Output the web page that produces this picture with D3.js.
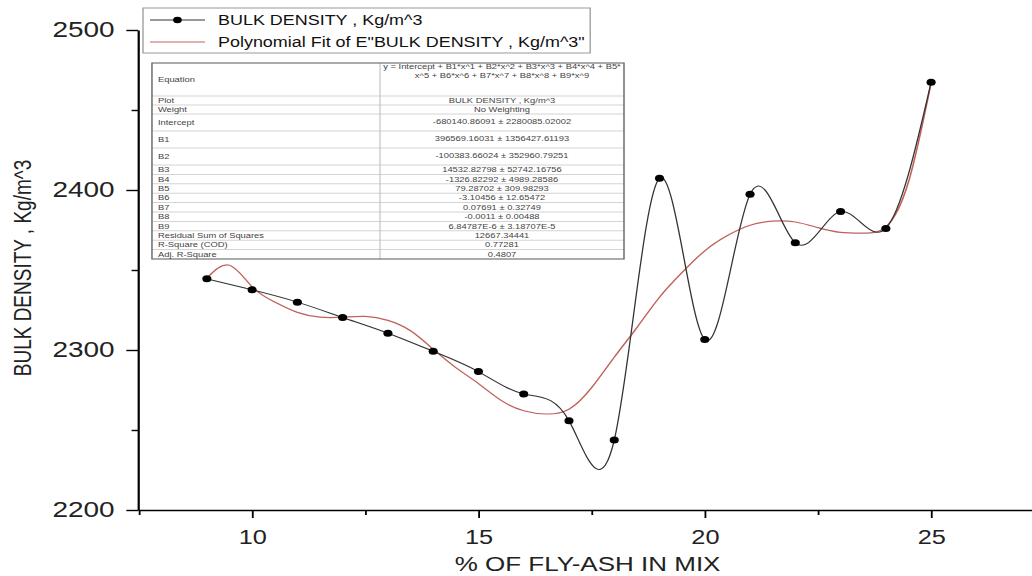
<!DOCTYPE html>
<html>
<head>
<meta charset="utf-8">
<script src="https://cdn.jsdelivr.net/npm/d3@7"></script>
<style>
  body { margin: 0; background: #fff; }
  svg { display: block; font-family: "Liberation Sans", Arial, sans-serif; }
</style>
</head>
<body>
<div id="chart"></div>
<script>
// measured data (% fly-ash vs bulk density)
const flyAsh = [9, 10, 11, 12, 13, 14, 15, 16, 17, 18, 19, 20, 21, 22, 23, 24, 25];
const bulkDensity = [2344.5, 2337.6, 2329.9, 2320.3, 2310.5, 2299.2, 2286.5, 2272.5,
  2255.8, 2243.7, 2407.3, 2306.5, 2397.3, 2367, 2386.5, 2376, 2467.3];

// polynomial fit curve
const fitX = [9, 9.5, 10, 10.5, 11, 11.5, 12, 12.5, 13, 13.5, 14, 14.5, 15, 15.5, 16, 16.5,
  17, 17.5, 18, 18.5, 19, 19.5, 20, 20.5, 21, 21.5, 22, 22.5, 23, 23.5, 24, 24.5, 25];
const fitY = [2345, 2353, 2339.5, 2330, 2323.5, 2320.5, 2320.5, 2321, 2318.5, 2312, 2300.5,
  2289, 2279, 2268.5, 2262, 2260, 2263, 2276.5, 2295.5, 2314, 2333, 2348.5, 2362, 2371.5,
  2378, 2380.5, 2380, 2376.5, 2373.5, 2373, 2377, 2405, 2467];

const xTicks = [10, 15, 20, 25];
const xMinor = [7.5, 12.5, 17.5, 22.5];
const yTicks = [2200, 2300, 2400, 2500];
const yMinor = [2250, 2350, 2450];

const legendLabels = ["BULK DENSITY , Kg/m^3", "Polynomial Fit of E\"BULK DENSITY , Kg/m^3\""];

const tableLabels = ["Equation", "Plot", "Weight", "Intercept", "B1", "B2", "B3", "B4", "B5",
  "B6", "B7", "B8", "B9", "Residual Sum of Squares", "R-Square (COD)", "Adj. R-Square"];
const tableValues = [
  ["y = Intercept + B1*x^1 + B2*x^2 + B3*x^3 + B4*x^4 + B5*", "x^5 + B6*x^6 + B7*x^7 + B8*x^8 + B9*x^9"],
  "BULK DENSITY , Kg/m^3", "No Weighting",
  "-680140.86091 ± 2280085.02002", "396569.16031 ± 1356427.61193",
  "-100383.66024 ± 352960.79251", "14532.82798 ± 52742.16756",
  "-1326.82292 ± 4989.28586", "79.28702 ± 309.98293", "-3.10456 ± 12.65472",
  "0.07691 ± 0.32749", "-0.0011 ± 0.00488", "6.84787E-6 ± 3.18707E-5",
  "12667.34441", "0.77281", "0.4807"];

const width = 1032;
const height = 576;
const SX = 1.3; // the original picture is stretched horizontally

const svg = d3.select("#chart")
  .append("svg")
  .attr("width", width)
  .attr("height", height);

const g = svg.append("g")
  .attr("transform", `scale(${SX},1)`);

const x = d3.scaleLinear()
  .domain([7.48, 27.4])
  .range([106.2, 799.8]);

const y = d3.scaleLinear()
  .domain([2200, 2500])
  .range([510, 30]);

const fontFam = '"Liberation Sans", Arial, sans-serif';

// axes
const yAxis = g.append("g")
  .attr("transform", `translate(${x.range()[0]},0)`)
  .call(d3.axisLeft(y).tickValues(yTicks).tickFormat(d3.format("d"))
    .tickSize(9).tickSizeOuter(0).tickPadding(9));
yAxis.selectAll("text")
  .attr("font-size", 21.5)
  .attr("font-family", fontFam)
  .attr("fill", "#222");
g.append("g")
  .attr("transform", `translate(${x.range()[0]},0)`)
  .call(d3.axisLeft(y).tickValues(yMinor).tickFormat("").tickSize(5).tickSizeOuter(0))
  .select(".domain").remove();

const xAxis = g.append("g")
  .attr("transform", `translate(0,${y.range()[0]})`)
  .call(d3.axisBottom(x).tickValues(xTicks).tickFormat(d3.format("d"))
    .tickSize(8).tickSizeOuter(0).tickPadding(12));
xAxis.selectAll("text")
  .attr("font-size", 19.5)
  .attr("font-family", fontFam)
  .attr("fill", "#222");
g.append("g")
  .attr("transform", `translate(0,${y.range()[0]})`)
  .call(d3.axisBottom(x).tickValues(xMinor).tickFormat("").tickSize(5).tickSizeOuter(0))
  .select(".domain").remove();

g.selectAll(".domain").attr("stroke", "#000").attr("stroke-width", 1.7);
g.selectAll(".tick line").attr("stroke", "#000").attr("stroke-width", 1.4);

// axis titles
g.append("text")
  .attr("x", 452)
  .attr("y", 571)
  .attr("text-anchor", "middle")
  .attr("font-size", 20)
  .attr("fill", "#222")
  .text("% OF FLY-ASH IN MIX");

g.append("text")
  .attr("transform", `translate(17.3,268) rotate(-90)`)
  .attr("dy", "0.36em")
  .attr("text-anchor", "middle")
  .attr("font-size", 19)
  .attr("fill", "#222")
  .text("BULK DENSITY , Kg/m^3");

// fit curve
const fitData = fitX.map((d, i) => ({ x: d, y: fitY[i] }));
g.append("path")
  .datum(fitData)
  .attr("fill", "none")
  .attr("stroke", "#c0625c")
  .attr("stroke-width", 1.2)
  .attr("d", d3.line().x(d => x(d.x)).y(d => y(d.y)).curve(d3.curveNatural));

// data line + points
const data = flyAsh.map((d, i) => ({ x: d, y: bulkDensity[i] }));
g.append("path")
  .datum(data)
  .attr("fill", "none")
  .attr("stroke", "#333")
  .attr("stroke-width", 1)
  .attr("d", d3.line().x(d => x(d.x)).y(d => y(d.y)).curve(d3.curveNatural));

g.selectAll(".pt")
  .data(data)
  .enter().append("circle")
  .attr("class", "pt")
  .attr("cx", d => x(d.x))
  .attr("cy", d => y(d.y))
  .attr("r", 3.5)
  .attr("fill", "#000");

// legend
const legend = g.append("g");
legend.append("rect")
  .attr("x", 110).attr("y", 8)
  .attr("width", 344).attr("height", 45)
  .attr("fill", "#fff")
  .attr("stroke", "#999")
  .attr("stroke-width", 1);
const legY = [20, 42];
legend.append("line")
  .attr("x1", 115.4).attr("x2", 157.7).attr("y1", legY[0]).attr("y2", legY[0])
  .attr("stroke", "#333").attr("stroke-width", 1);
legend.append("circle")
  .attr("cx", 136.5).attr("cy", legY[0]).attr("r", 3.3).attr("fill", "#000");
legend.append("line")
  .attr("x1", 115.4).attr("x2", 157.7).attr("y1", legY[1]).attr("y2", legY[1])
  .attr("stroke", "#c0625c").attr("stroke-width", 1.2);
legend.selectAll(".leg-text")
  .data(legendLabels)
  .enter().append("text")
  .attr("class", "leg-text")
  .attr("x", 167.7)
  .attr("y", (d, i) => legY[i])
  .attr("dy", "0.36em")
  .attr("font-size", 13.8)
  .attr("fill", "#111")
  .text(d => d);

// fit result table
const tLeft = 116.9, tRight = 480, tMid = 292.3, tTop = 63;
const rowH = [33, 9, 9, 17, 17, 17, 9.4, 9.4, 9.4, 9.4, 9.4, 9.4, 9.4, 9.4, 9.4, 9.4];
const rowTop = [];
rowH.reduce((acc, h) => { rowTop.push(acc); return acc + h; }, tTop);
const tBottom = rowTop[rowTop.length - 1] + rowH[rowH.length - 1];

const table = g.append("g").attr("font-size", 7.2).attr("fill", "#444");
table.append("rect")
  .attr("x", tLeft).attr("y", tTop)
  .attr("width", tRight - tLeft).attr("height", tBottom - tTop)
  .attr("fill", "#fff");

table.selectAll(".row-line")
  .data(rowTop.slice(1))
  .enter().append("line")
  .attr("x1", tLeft).attr("x2", tRight)
  .attr("y1", d => d).attr("y2", d => d)
  .attr("stroke", "#d4d4d4").attr("stroke-width", 1);
table.append("line")
  .attr("x1", tMid).attr("x2", tMid).attr("y1", tTop).attr("y2", tBottom)
  .attr("stroke", "#bbb").attr("stroke-width", 0.8);
table.append("rect")
  .attr("x", tLeft).attr("y", tTop)
  .attr("width", tRight - tLeft).attr("height", tBottom - tTop)
  .attr("fill", "none")
  .attr("stroke", "#666").attr("stroke-width", 1.1);

table.selectAll(".t-label")
  .data(tableLabels)
  .enter().append("text")
  .attr("x", tLeft + 4.6)
  .attr("y", (d, i) => rowTop[i] + rowH[i] / 2)
  .attr("dy", "0.36em")
  .text(d => d);

tableValues.forEach((v, i) => {
  const cx = (tMid + tRight) / 2;
  if (Array.isArray(v)) {
    v.forEach((line, j) => {
      table.append("text")
        .attr("x", cx)
        .attr("y", rowTop[i] + 3.5 + j * 9)
        .attr("dy", "0.36em")
        .attr("text-anchor", "middle")
        .text(line);
    });
  } else {
    table.append("text")
      .attr("x", cx)
      .attr("y", rowTop[i] + rowH[i] / 2 - (rowH[i] > 10 ? 1.5 : 0))
      .attr("dy", "0.36em")
      .attr("text-anchor", "middle")
      .text(v);
  }
});
</script>
</body>
</html>
